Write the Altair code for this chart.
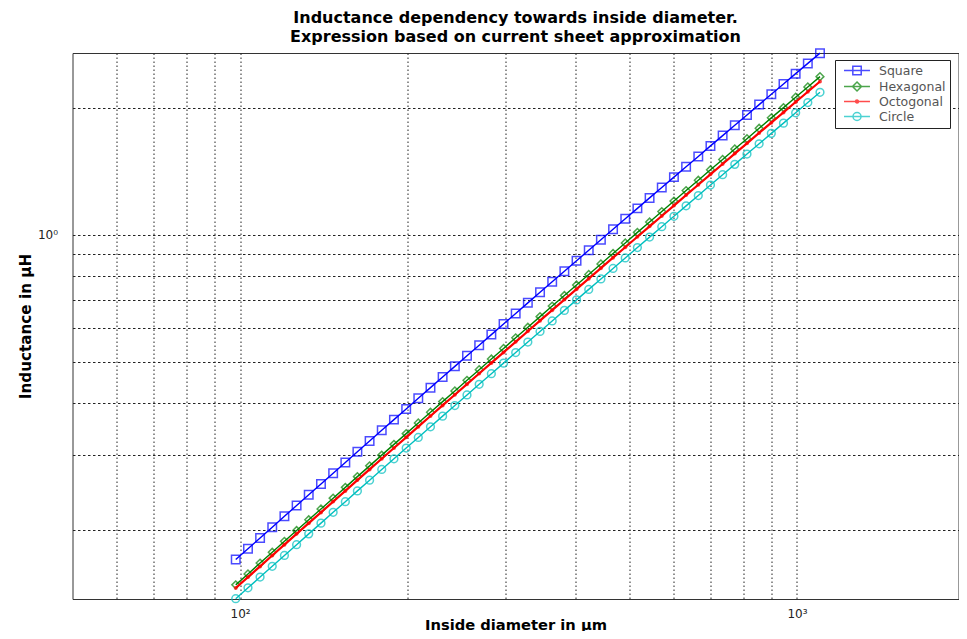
import altair as alt
import pandas as pd

TITLE = ["Inductance dependency towards inside diameter.",
         "Expression based on current sheet approximation"]
X_TITLE = "Inside diameter in µm"
Y_TITLE = "Inductance in µH"

SERIES = ["Square", "Hexagonal", "Octogonal", "Circle"]
COLORS = ["#0000ff", "#008000", "#ff0000", "#00bfbf"]

diameter = [98.2, 103.3, 108.6, 114.2, 120.1, 126.3, 132.8, 139.7, 146.9, 154.5,
            162.4, 170.8, 179.6, 188.9, 198.7, 208.9, 219.7, 231.0, 243.0, 255.5,
            268.7, 282.6, 297.2, 312.5, 328.6, 345.6, 363.4, 382.2, 401.9, 422.7,
            444.5, 467.4, 491.6, 516.9, 543.6, 571.7, 601.2, 632.2, 664.9, 699.2,
            735.3, 773.2, 813.2, 855.1, 899.3, 945.7, 994.5, 1045.8, 1099.8]

square = [0.1699, 0.1803, 0.1912, 0.2028, 0.2152, 0.2282, 0.2421, 0.2567, 0.2723, 0.2886,
          0.3061, 0.3245, 0.3441, 0.3648, 0.3867, 0.4098, 0.4344, 0.4604, 0.4879, 0.5169,
          0.5478, 0.5803, 0.6149, 0.6514, 0.6901, 0.7310, 0.7742, 0.8201, 0.8685, 0.9196,
          0.9738, 1.031, 1.092, 1.156, 1.224, 1.295, 1.371, 1.451, 1.535, 1.626,
          1.720, 1.820, 1.925, 2.037, 2.156, 2.280, 2.412, 2.551, 2.698]

hexagonal = [0.1480, 0.1571, 0.1667, 0.1768, 0.1877, 0.1991, 0.2112, 0.2240, 0.2376, 0.2520,
             0.2672, 0.2834, 0.3005, 0.3187, 0.3379, 0.3582, 0.3797, 0.4025, 0.4266, 0.4521,
             0.4792, 0.5078, 0.5381, 0.5702, 0.6041, 0.6401, 0.6781, 0.7183, 0.7609, 0.8059,
             0.8535, 0.9040, 0.9572, 1.014, 1.073, 1.136, 1.203, 1.274, 1.348, 1.427,
             1.510, 1.599, 1.691, 1.790, 1.895, 2.004, 2.121, 2.243, 2.373]

octogonal = [0.1455, 0.1544, 0.1637, 0.1737, 0.1843, 0.1955, 0.2073, 0.2198, 0.2332, 0.2472,
             0.2622, 0.2780, 0.2947, 0.3124, 0.3312, 0.3510, 0.3720, 0.3943, 0.4178, 0.4428,
             0.4692, 0.4971, 0.5266, 0.5579, 0.5910, 0.6261, 0.6631, 0.7024, 0.7438, 0.7876,
             0.8341, 0.8832, 0.9350, 0.9900, 1.048, 1.109, 1.174, 1.243, 1.315, 1.392,
             1.473, 1.559, 1.649, 1.745, 1.846, 1.952, 2.066, 2.185, 2.311]

circle = [0.1372, 0.1456, 0.1544, 0.1638, 0.1738, 0.1843, 0.1955, 0.2073, 0.2199, 0.2331,
          0.2472, 0.2621, 0.2779, 0.2946, 0.3123, 0.3310, 0.3508, 0.3718, 0.3940, 0.4175,
          0.4424, 0.4687, 0.4966, 0.5261, 0.5573, 0.5904, 0.6253, 0.6623, 0.7014, 0.7427,
          0.7865, 0.8328, 0.8817, 0.9335, 0.9882, 1.046, 1.107, 1.172, 1.240, 1.313,
          1.389, 1.470, 1.555, 1.645, 1.741, 1.841, 1.948, 2.060, 2.179]

X_DOMAIN = [50, 1950]
Y_DOMAIN = [0.137, 2.70]
X_GRID = [60, 70, 80, 90, 100, 200, 300, 400, 500, 600, 700, 800, 900, 1000]
Y_GRID = [0.2, 0.3, 0.4, 0.5, 0.6, 0.7, 0.8, 0.9, 1, 2]
X_TICK_LABELS = {100: "10²", 1000: "10³"}
Y_TICK_LABELS = {1: "10⁰"}

values = [square, hexagonal, octogonal, circle]
rows = []
for name, ys in zip(SERIES, values):
    for d, v in zip(diameter, ys):
        rows.append({"d": d, "L": v, "series": name})
df = pd.DataFrame(rows)


def label_expr(mapping):
    expr = "''"
    for k, v in reversed(list(mapping.items())):
        expr = f"datum.value == {k} ? '{v}' : {expr}"
    return expr


FONT = "DejaVu Sans"

x_enc = alt.X(
    "d:Q",
    scale=alt.Scale(type="log", domain=X_DOMAIN, nice=False),
    axis=alt.Axis(values=X_GRID, labelExpr=label_expr(X_TICK_LABELS), grid=True,
                  gridDash=[1.5, 2.5], gridColor="#222", gridOpacity=1, domain=False,
                  ticks=False, labelPadding=9, labelOverlap=False, labelFlush=False,
                  title=X_TITLE, titleY=30, titleBaseline="alphabetic",
                  titleFontSize=14.7),
)
y_enc = alt.Y(
    "L:Q",
    scale=alt.Scale(type="log", domain=Y_DOMAIN, nice=False),
    axis=alt.Axis(values=Y_GRID, labelExpr=label_expr(Y_TICK_LABELS), grid=True,
                  gridDash=[2.5, 2.5], gridColor="#222", gridOpacity=1, domain=False,
                  ticks=False, labelPadding=15, labelOverlap=False, labelFlush=False,
                  title=Y_TITLE, titleX=-42, titleBaseline="alphabetic",
                  titleFontSize=15.2),
)

line_widths = [1.4, 1.4, 2.2, 1.4]
markers = [
    dict(shape="square", filled=False, size=72, strokeWidth=1.5),
    dict(shape="diamond", filled=False, size=60, strokeWidth=1.5),
    dict(shape="circle", filled=True, size=16, strokeWidth=1),
    dict(shape="circle", filled=False, size=60, strokeWidth=1.5),
]

layers = []
for name, col, lw, mk in zip(SERIES, COLORS, line_widths, markers):
    sub = alt.Chart(df).transform_filter(alt.datum.series == name)
    layers.append(sub.mark_line(color=col, strokeWidth=lw).encode(x=x_enc, y=y_enc))
    layers.append(sub.mark_point(color=col, **mk).encode(x=x_enc, y=y_enc))

LEGEND_PATHS = [
    "M-1,0H3.33M0.47,-0.7H1.87V0.7H0.47Z",
    "M-1,0H3.33M1.17,-0.75L1.92,0L1.17,0.75L0.42,0Z",
    "M-1,0H3.33M0.92,0A0.25,0.25 0 1,0 1.42,0A0.25,0.25 0 1,0 0.92,0Z",
    "M-1,0H3.33M0.5,0A0.67,0.67 0 1,0 1.84,0A0.67,0.67 0 1,0 0.5,0Z",
]

leg = alt.Legend(title=None, orient="none", legendX=762.5, legendY=7, padding=3.5,
                 symbolOffset=4.5, labelOffset=22, rowPadding=0, symbolSize=144,
                 symbolStrokeWidth=1.5, labelFont=FONT, labelFontSize=12.5,
                 labelColor="#555", strokeColor="#222", fillColor="white",
                 labelExpr="datum.label + '\u00a0\u00a0\u00a0'")

legend_layer = alt.Chart(df).transform_filter("false").mark_point(filled=False).encode(
    color=alt.Color("series:N", scale=alt.Scale(domain=SERIES, range=COLORS), legend=leg),
    shape=alt.Shape("series:N", scale=alt.Scale(domain=SERIES, range=LEGEND_PATHS), legend=leg),
)
layers.append(legend_layer)

chart = alt.layer(*layers).properties(
    width=886,
    height=546,
    title=alt.TitleParams(text=TITLE, font=FONT, fontSize=16, fontWeight="bold",
                          lineHeight=19, anchor="middle", offset=0.7, color="black"),
    autosize=alt.AutoSizeParams(type="none"),
    padding={"left": 64.5, "top": 45, "right": 0.5, "bottom": 32},
    background="white",
).configure_axis(
    labelFont=FONT, labelFontSize=12, labelColor="#222",
    titleFont=FONT, titleFontWeight="bold", titleColor="black",
).configure_view(stroke="#333", strokeWidth=1)

chart.save("out.html", embed_options={"renderer": "svg", "actions": False})
